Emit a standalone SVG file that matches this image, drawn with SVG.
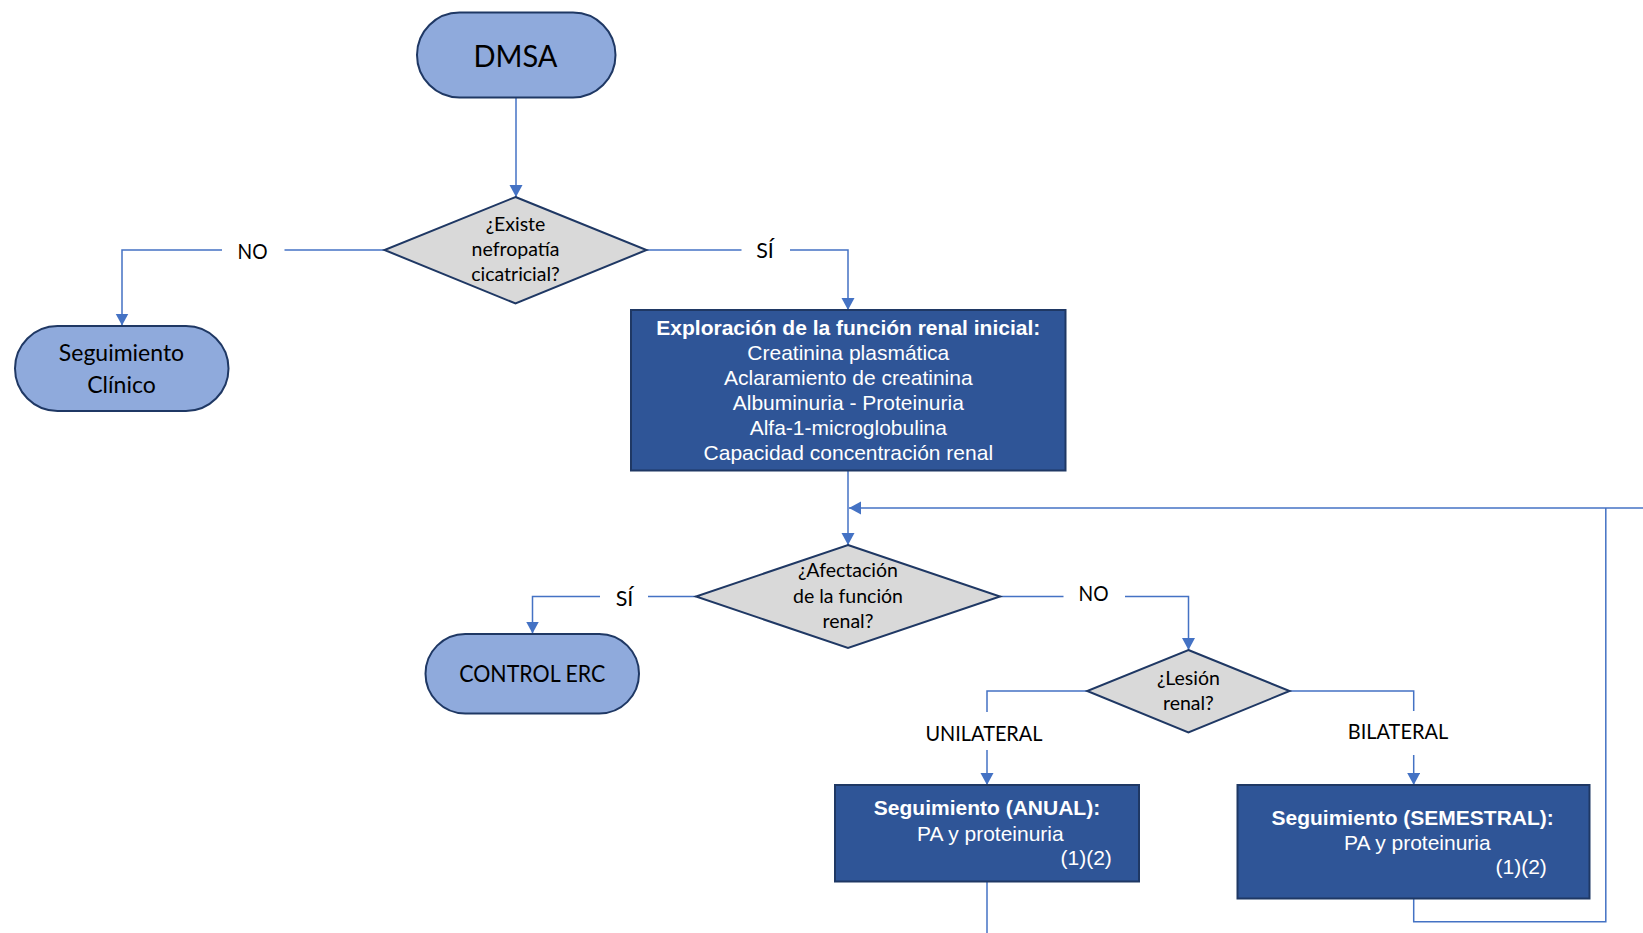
<svg xmlns="http://www.w3.org/2000/svg" width="1643" height="933" viewBox="0 0 1643 933">
  <style>
    .term { fill: #8FAADC; stroke: #1F3864; stroke-width: 2; }
    .dec { fill: #D9D9D9; stroke: #1F3864; stroke-width: 2; }
    .box { fill: #2F5597; stroke: #1F3864; stroke-width: 2; }
    .conn { fill: none; stroke: #4472C4; stroke-width: 1.5; }
    .cal { font-family: Lato, "Open Sans", "Liberation Sans", sans-serif; fill: #000; text-anchor: middle; }
    .ar { font-family: "Liberation Sans", Arial, sans-serif; fill: #FFFFFF; font-size: 21px; }
    .mid { text-anchor: middle; }
    .b { font-weight: bold; }
    .q { font-size: 19.5px; }
    .lbl { font-size: 21.5px; }
  </style>
  <defs>
    <marker id="arrow" markerUnits="userSpaceOnUse" markerWidth="14" markerHeight="14" viewBox="0 0 14 14" refX="12" refY="6.5" orient="auto">
      <path d="M0,0 L12,6.5 L0,13 Z" fill="#4472C4"/>
    </marker>
  </defs>

  <rect width="1643" height="933" fill="#FFFFFF"/>

  <!-- connectors -->
  <g id="connectors">
    <path class="conn" d="M516,98 V197" marker-end="url(#arrow)"/>
    <path class="conn" d="M384.5,250 H284.5"/>
    <path class="conn" d="M222,250 H122 V325.5" marker-end="url(#arrow)"/>
    <path class="conn" d="M646.5,250 H741.5"/>
    <path class="conn" d="M790,250 H848 V310" marker-end="url(#arrow)"/>
    <path class="conn" d="M848,471 V545" marker-end="url(#arrow)"/>
    <path class="conn" d="M1643,508 H849" marker-end="url(#arrow)"/>
    <path class="conn" d="M1413.7,899 V921.7 H1605.8 V508"/>
    <path class="conn" d="M696,596.5 H648"/>
    <path class="conn" d="M600,596.5 H532.5 V633.5" marker-end="url(#arrow)"/>
    <path class="conn" d="M999.6,596.5 H1063.5"/>
    <path class="conn" d="M1125,596.5 H1188.5 V650" marker-end="url(#arrow)"/>
    <path class="conn" d="M1087,691 H987 V712"/>
    <path class="conn" d="M987,750 V785" marker-end="url(#arrow)"/>
    <path class="conn" d="M1289.6,691 H1413.7 V711"/>
    <path class="conn" d="M1413.7,755 V785" marker-end="url(#arrow)"/>
    <path class="conn" d="M987,881 V933"/>

    <text class="cal lbl" x="252.5" y="259" textLength="30" lengthAdjust="spacingAndGlyphs">NO</text>
    <text class="cal lbl" x="765" y="258">SÍ</text>
    <text class="cal lbl" x="624.5" y="605.5">SÍ</text>
    <text class="cal lbl" x="1093.5" y="600.5" textLength="30" lengthAdjust="spacingAndGlyphs">NO</text>
    <text class="cal lbl" x="984" y="741" textLength="117" lengthAdjust="spacingAndGlyphs">UNILATERAL</text>
    <text class="cal lbl" x="1398" y="739" textLength="100.5" lengthAdjust="spacingAndGlyphs">BILATERAL</text>
  </g>

  <!-- start terminal -->
  <g id="dmsa">
    <rect class="term" x="417" y="12.5" width="198.5" height="85" rx="42.5"/>
    <text class="cal" x="515.5" y="66.5" font-size="30" textLength="84" lengthAdjust="spacingAndGlyphs">DMSA</text>
  </g>

  <!-- decision: scarring nephropathy -->
  <g id="q-nefropatia">
    <polygon class="dec" points="515.5,197 646.5,250 515.5,303.5 384.5,250"/>
    <text class="cal q" x="515.5" y="230.5">¿Existe</text>
    <text class="cal q" x="515.5" y="255.5">nefropatía</text>
    <text class="cal q" x="515.5" y="280.5">cicatricial?</text>
  </g>

  <g id="seguimiento-clinico">
    <rect class="term" x="15" y="326" width="213.5" height="85" rx="42.5"/>
    <text class="cal" x="121.5" y="361" font-size="23">Seguimiento</text>
    <text class="cal" x="121.5" y="392.5" font-size="23">Clínico</text>
  </g>

  <g id="exploracion">
    <rect class="box" x="631" y="310" width="434.5" height="160.5"/>
    <text class="ar mid b" x="848.3" y="335">Exploración de la función renal inicial:</text>
    <text class="ar mid" x="848.3" y="360">Creatinina plasmática</text>
    <text class="ar mid" x="848.3" y="385">Aclaramiento de creatinina</text>
    <text class="ar mid" x="848.3" y="410">Albuminuria - Proteinuria</text>
    <text class="ar mid" x="848.3" y="435">Alfa-1-microglobulina</text>
    <text class="ar mid" x="848.3" y="460">Capacidad concentración renal</text>
  </g>

  <!-- decision: renal function impairment -->
  <g id="q-afectacion">
    <polygon class="dec" points="848,545 1000,596.5 848,648 696,596.5"/>
    <text class="cal q" x="848" y="576.5">¿Afectación</text>
    <text class="cal q" x="848" y="602.5">de la función</text>
    <text class="cal q" x="848" y="627.5">renal?</text>
  </g>

  <g id="control-erc">
    <rect class="term" x="425.5" y="634" width="213.5" height="79.5" rx="39.75"/>
    <text class="cal" x="532.3" y="682" font-size="24" textLength="146" lengthAdjust="spacingAndGlyphs">CONTROL ERC</text>
  </g>

  <!-- decision: lesion laterality -->
  <g id="q-lesion">
    <polygon class="dec" points="1188.4,650 1289.6,691 1188.4,732.5 1087.2,691"/>
    <text class="cal q" x="1188.4" y="685">¿Lesión</text>
    <text class="cal q" x="1188.4" y="709.5">renal?</text>
  </g>

  <g id="seguimiento-anual">
    <rect class="box" x="835" y="785" width="304" height="96.5"/>
    <text class="ar mid b" x="987" y="815">Seguimiento (ANUAL):</text>
    <text class="ar" x="917" y="840.5">PA y proteinuria</text>
    <text class="ar" x="1060.5" y="864.5">(1)(2)</text>
  </g>

  <g id="seguimiento-semestral">
    <rect class="box" x="1237.5" y="785" width="352" height="113.5"/>
    <text class="ar mid b" x="1412.7" y="824.5">Seguimiento (SEMESTRAL):</text>
    <text class="ar" x="1344" y="849.5">PA y proteinuria</text>
    <text class="ar" x="1495.5" y="874">(1)(2)</text>
  </g>
</svg>
